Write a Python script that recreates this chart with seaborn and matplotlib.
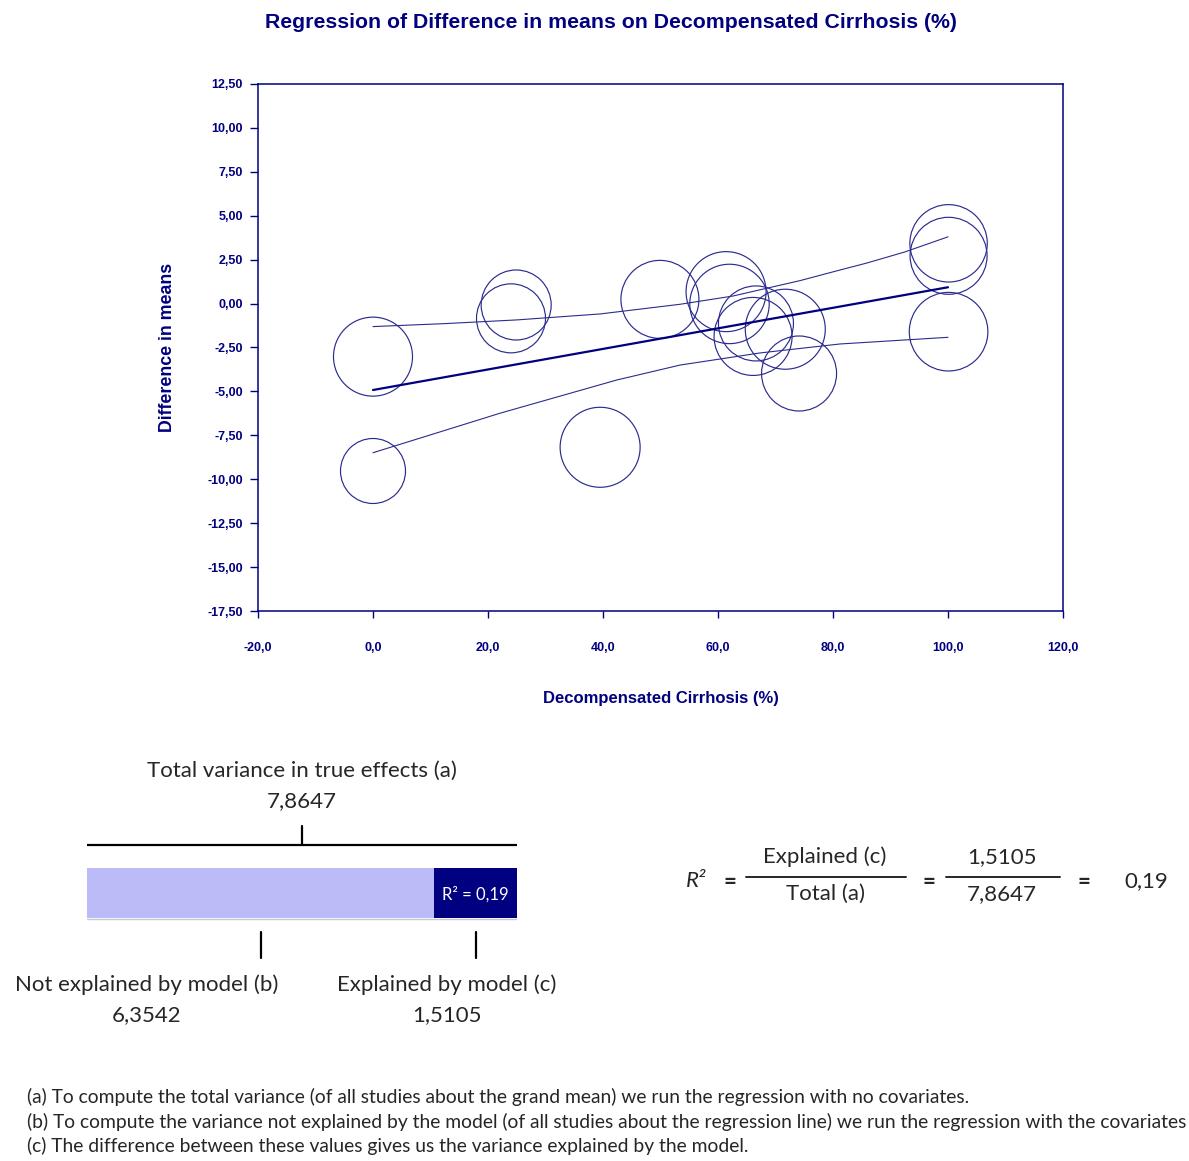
import matplotlib
matplotlib.use("Agg")
import matplotlib.pyplot as plt
from matplotlib.lines import Line2D
from matplotlib.ticker import FuncFormatter, FixedLocator
import seaborn as sns
import pandas as pd

# ---------------- data ----------------
decomp_pct = [0.0, 0.0, 24.9, 24.0, 49.9, 61.4, 62.0, 66.6, 66.1, 71.7, 74.1, 39.5, 100.1, 100.1, 100.1]
diff_means = [-3.02, -9.53, -0.08, -0.84, 0.24, 0.68, -0.02, -1.13, -1.87, -1.46, -3.98, -8.18, 3.43, 2.72, -1.60]
study_weight = [39.5, 32.5, 35.0, 34.5, 39.0, 40.0, 39.7, 37.5, 39.0, 40.0, 37.5, 40.0, 38.7, 38.5, 39.3]

reg_x = [0.0, 100.0]
reg_y = [-4.92, 0.93]

ci_upper_x = [0.0, 12.5, 25.0, 39.5, 53.4, 62.6, 74.3, 81.2, 85.9, 92.5, 100.0]
ci_upper_y = [-1.31, -1.14, -0.93, -0.59, -0.04, 0.43, 1.31, 1.91, 2.31, 2.94, 3.80]
ci_lower_x = [0.0, 11.7, 22.1, 42.4, 53.4, 67.3, 81.2, 100.0]
ci_lower_y = [-8.49, -7.30, -6.24, -4.35, -3.50, -2.81, -2.30, -1.92]

y_ticks = [12.5, 10.0, 7.5, 5.0, 2.5, 0.0, -2.5, -5.0, -7.5, -10.0, -12.5, -15.0, -17.5]
x_ticks = [-20, 0, 20, 40, 60, 80, 100, 120]

var_total = 7.8647
var_not_explained = 6.3542
var_explained = 1.5105
r_squared = 0.19

title = "Regression of Difference in means on Decompensated Cirrhosis (%)"
x_label = "Decompensated Cirrhosis (%)"
y_label = "Difference in means"
footnotes = [
    "(a) To compute the total variance (of all studies about the grand mean) we run the regression with no covariates.",
    "(b) To compute the variance not explained by the model (of all studies about the regression line) we run the regression with the covariates",
    "(c) The difference between these values gives us the variance explained by the model.",
]

# ---------------- style ----------------
sns.set_style("white")
plt.rcParams["font.family"] = ["Liberation Sans", "DejaVu Sans"]
NAVY = "#000080"
CIRC = "#2b2b8f"

W, H = 1189, 1161
fig = plt.figure(figsize=(W / 100, H / 100), dpi=100)
fig.patch.set_facecolor("white")

ax = fig.add_axes([258 / W, 1 - 611 / H, (1063 - 258) / W, (611 - 84) / H])

df = pd.DataFrame({"x": decomp_pct, "y": diff_means, "w": study_weight})
sizes = [(2 * r * 0.72) ** 2 for r in study_weight]
sns.scatterplot(data=df, x="x", y="y", s=sizes, marker="o", ax=ax, legend=False)
coll = ax.collections[-1]
coll.set_facecolor("none")
coll.set_edgecolor(CIRC)
coll.set_linewidth(0.85)

sns.lineplot(x=ci_upper_x, y=ci_upper_y, ax=ax, color=CIRC, linewidth=0.8, sort=False, estimator=None)
sns.lineplot(x=ci_lower_x, y=ci_lower_y, ax=ax, color=CIRC, linewidth=0.8, sort=False, estimator=None)
sns.lineplot(x=reg_x, y=reg_y, ax=ax, color=NAVY, linewidth=1.6, sort=False, estimator=None)

ax.set_xlim(-20, 120)
ax.set_ylim(-17.5, 12.5)
ax.xaxis.set_major_locator(FixedLocator(x_ticks))
ax.yaxis.set_major_locator(FixedLocator(y_ticks))
ax.xaxis.set_major_formatter(FuncFormatter(lambda v, p: f"{v:.1f}".replace(".", ",")))
ax.yaxis.set_major_formatter(FuncFormatter(lambda v, p: f"{v:.2f}".replace(".", ",")))

for s in ax.spines.values():
    s.set_visible(True)
    s.set_color(NAVY)
    s.set_linewidth(1.1)

ax.tick_params(axis="y", direction="out", length=6, width=1, color=NAVY, pad=5,
               labelsize=9, labelcolor=NAVY, left=True)
ax.tick_params(axis="x", direction="out", length=5, width=1, color=NAVY, pad=17.5,
               labelsize=9, labelcolor=NAVY, bottom=True)
for lab in ax.get_xticklabels() + ax.get_yticklabels():
    lab.set_fontweight("bold")

ax.set_xlabel(x_label, fontsize=12, fontweight="bold", color=NAVY, va="center")
ax.xaxis.set_label_coords(0.5, -(698 - 611) / 527)
ax.set_ylabel(y_label, fontsize=12.8, fontweight="bold", color=NAVY, va="center")
ax.yaxis.set_label_coords(-(258 - 168) / 805, 0.5)
ax.grid(False)

fig.text(611 / W, 1 - 22.5 / H, title, ha="center", va="center", fontsize=15.3,
         fontweight="bold", color=NAVY)

# ---------------- variance diagram ----------------
LOWER_FONT = ["Lato", "DejaVu Sans"]
TXT = "#262626"
ax2 = fig.add_axes([87 / W, 1 - 970 / H, 430 / W, 170 / H])
ax2.set_xlim(0, var_total)
ax2.set_ylim(970, 800)
ax2.axis("off")
ax2.barh(y=[893, 893], width=[var_not_explained, var_explained], left=[0, var_not_explained],
         height=50, color=["#bbbbf7", NAVY], edgecolor="none")
ax2.plot([0, var_total], [918.5, 918.5], color="#c8c8d8", lw=1.0)
ax2.plot([0, var_total], [845, 845], color="black", lw=1.6, solid_capstyle="butt")
ax2.plot([var_total / 2] * 2, [826, 845], color="black", lw=1.6)
ax2.plot([var_not_explained / 2] * 2, [932, 958], color="black", lw=1.6)
ax2.plot([var_not_explained + var_explained / 2] * 2, [932, 958], color="black", lw=1.6)
ax2.text(var_not_explained + var_explained / 2, 894, f"R² = {r_squared:.2f}".replace(".", ","),
         ha="center", va="center", color="white", fontsize=12, family=LOWER_FONT)

def ft(x, y, s, **kw):
    kw.setdefault("fontsize", 16)
    kw.setdefault("family", LOWER_FONT)
    kw.setdefault("color", TXT)
    fig.text(x / W, 1 - y / H, s, ha=kw.pop("ha", "center"), va=kw.pop("va", "center"), **kw)

fmt4 = lambda v: f"{v:.4f}".replace(".", ",")
ft(302, 771, "Total variance in true effects (a)")
ft(302, 801, fmt4(var_total))
ft(147, 985, "Not explained by model (b)")
ft(147, 1015, fmt4(var_not_explained))
ft(447, 985, "Explained by model (c)")
ft(447, 1015, fmt4(var_explained))

# formula
ft(696, 881, "R²", style="italic")
ft(730, 882, "=", fontweight="bold")
ft(825, 857, "Explained (c)")
ft(825, 894, "Total (a)")
ft(929, 882, "=", fontweight="bold")
ft(1002, 857, fmt4(var_explained))
ft(1002, 894, fmt4(var_total))
ft(1084, 882, "=", fontweight="bold")
ft(1146, 881, f"{r_squared:.2f}".replace(".", ","))
fig.add_artist(Line2D([746 / W, 906 / W], [1 - 877 / H] * 2, color=TXT, lw=1.4))
fig.add_artist(Line2D([946 / W, 1060 / W], [1 - 877 / H] * 2, color=TXT, lw=1.4))

for i, line in enumerate(footnotes):
    ft(27, 1097 + 24.5 * i, line, ha="left", fontsize=13.9)

fig.savefig("out.png", dpi=100)
